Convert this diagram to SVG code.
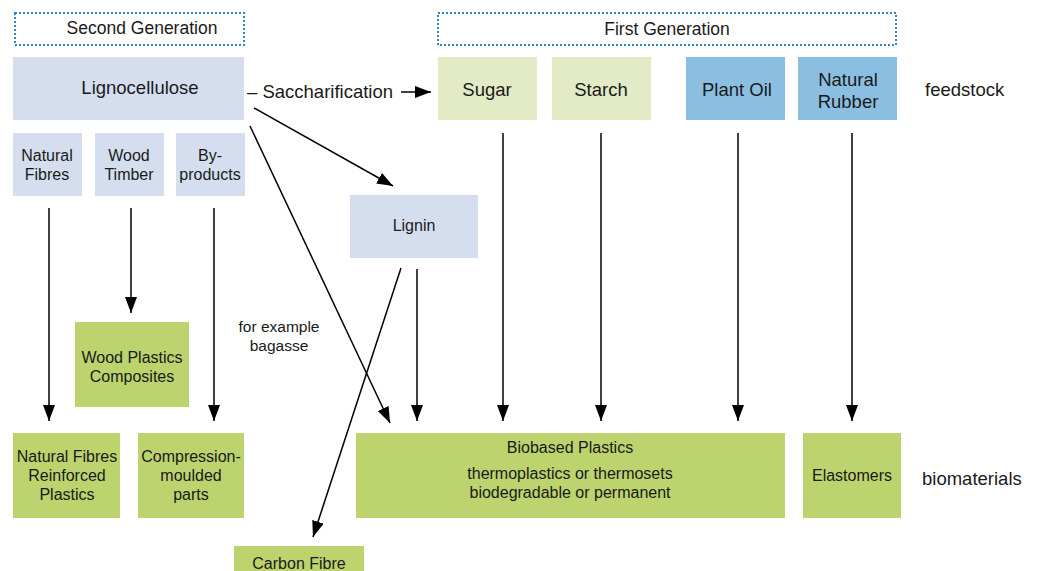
<svg xmlns="http://www.w3.org/2000/svg" width="1043" height="571" viewBox="0 0 1043 571">
<defs>
<marker id="ah" viewBox="0 0 16 12" refX="16" refY="6" markerWidth="16" markerHeight="12" markerUnits="userSpaceOnUse" orient="auto">
<path d="M0,0 L16,6 L0,12 Z" fill="#000"/>
</marker>
<style>
text{font-family:"Liberation Sans",Arial,sans-serif;fill:#1a1a1a;text-anchor:middle}
.gen{fill:#fff;stroke:#2e86c8;stroke-width:2;stroke-dasharray:2 2}
.lb{fill:#d5deee}
.lg{fill:#e3eac6}
.bl{fill:#8bbfe2}
.gr{fill:#bdd36d}
.c line,.c path{stroke:#000;stroke-width:1.5;fill:none;marker-end:url(#ah)}
.t17{font-size:18.5px}
.t16{font-size:17.5px}
.t14{font-size:16px}
.t13{font-size:15.5px}
.l{text-anchor:start}
</style>
</defs>
<rect width="1043" height="571" fill="#fff"/>

<g id="second-generation"><rect class="gen" x="15" y="13" width="229" height="32"/><text class="t16" x="142" y="34">Second Generation</text></g>
<g id="first-generation"><rect class="gen" x="438" y="13" width="458" height="32"/><text class="t16" x="667" y="35">First Generation</text></g>

<g id="lignocellulose"><rect class="lb" x="13" y="57" width="231" height="63"/><text class="t17" x="140" y="94">Lignocellulose</text></g>
<g id="sugar"><rect class="lg" x="438" y="57" width="99" height="63"/><text class="t17" x="487" y="96">Sugar</text></g>
<g id="starch"><rect class="lg" x="552" y="57" width="99" height="63"/><text class="t17" x="601" y="96">Starch</text></g>
<g id="plant-oil"><rect class="bl" x="686" y="57" width="99" height="63"/><text class="t17" x="737" y="96">Plant Oil</text></g>
<g id="natural-rubber"><rect class="bl" x="798" y="57" width="99" height="63"/><text class="t17" x="848" y="86">Natural</text><text class="t17" x="848" y="108">Rubber</text></g>
<g id="feedstock"><text class="t17 l" x="925" y="96">feedstock</text></g>

<g id="natural-fibres"><rect class="lb" x="13" y="133" width="69" height="63"/><text class="t14" x="47" y="161">Natural</text><text class="t14" x="47" y="180">Fibres</text></g>
<g id="wood-timber"><rect class="lb" x="95" y="133" width="69" height="63"/><text class="t14" x="129" y="161">Wood</text><text class="t14" x="129" y="180">Timber</text></g>
<g id="by-products"><rect class="lb" x="176" y="133" width="69" height="63"/><text class="t14" x="210" y="161">By-</text><text class="t14" x="210" y="180">products</text></g>

<g id="lignin"><rect class="lb" x="350" y="195" width="128" height="63"/><text class="t14" x="414" y="231">Lignin</text></g>

<g id="wood-plastics-composites"><rect class="gr" x="75" y="322" width="114" height="85"/><text class="t14" x="132" y="363">Wood Plastics</text><text class="t14" x="132" y="382">Composites</text></g>
<g id="for-example"><text class="t13" x="279" y="332">for example</text><text class="t13" x="279" y="351">bagasse</text></g>

<g id="nf-reinforced-plastics"><rect class="gr" x="13" y="433" width="107" height="85"/><text class="t14" x="67" y="462">Natural Fibres</text><text class="t14" x="67" y="481">Reinforced</text><text class="t14" x="67" y="500">Plastics</text></g>
<g id="compression-moulded"><rect class="gr" x="138" y="433" width="106" height="85"/><text class="t14" x="191" y="462">Compression-</text><text class="t14" x="191" y="481">moulded</text><text class="t14" x="191" y="500">parts</text></g>
<g id="biobased-plastics"><rect class="gr" x="356" y="433" width="429" height="85"/><text class="t14" x="570" y="453">Biobased Plastics</text><text class="t14" x="570" y="479">thermoplastics or thermosets</text><text class="t14" x="570" y="498">biodegradable or permanent</text></g>
<g id="elastomers"><rect class="gr" x="803" y="433" width="98" height="85"/><text class="t14" x="852" y="481">Elastomers</text></g>
<g id="biomaterials"><text class="t17 l" x="922" y="485">biomaterials</text></g>
<g id="carbon-fibre"><rect class="gr" x="234" y="546" width="130" height="30"/><text class="t14" x="299" y="569">Carbon Fibre</text></g>

<g id="saccharification"><text class="t17 l" x="247" y="98">– Saccharification</text></g>

<g id="connectors" class="c">
<line x1="401" y1="92" x2="431" y2="92"/>
<line x1="254" y1="108" x2="393" y2="186"/>
<line x1="250" y1="126" x2="390" y2="423"/>
<line x1="401" y1="268" x2="313" y2="537"/>
<line x1="417" y1="269" x2="417" y2="421"/>
<line x1="503" y1="133" x2="503" y2="421"/>
<line x1="601" y1="133" x2="601" y2="421"/>
<line x1="738" y1="133" x2="738" y2="421"/>
<line x1="852" y1="133" x2="852" y2="421"/>
<line x1="49" y1="208" x2="49" y2="421"/>
<line x1="131" y1="208" x2="131" y2="313"/>
<line x1="214" y1="208" x2="214" y2="421"/>
</g>
</svg>
